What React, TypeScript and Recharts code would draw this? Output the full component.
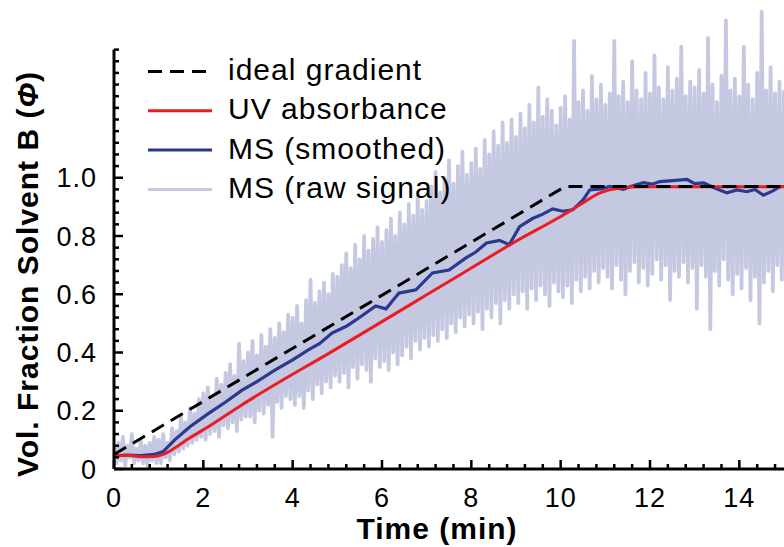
import React from "react";
import { LineChart, Line, XAxis, YAxis, Legend, ReferenceLine } from "recharts";

// ideal gradient program
const idealTime = [0, 10.1, 15];
const idealValue = [0.05, 0.97, 0.97];

// UV absorbance trace
const uvTime = [0, 0.3, 0.6, 0.9, 1.1, 1.36, 1.7, 2.11, 2.86, 3.61, 4.81, 6, 7, 8, 9, 9.98, 10.43, 10.88, 11.33, 11.8, 15];
const uvValue = [0.045, 0.047, 0.042, 0.043, 0.05, 0.072, 0.107, 0.145, 0.22, 0.29, 0.397, 0.506, 0.598, 0.69, 0.782, 0.865, 0.907, 0.948, 0.965, 0.969, 0.969];

// MS smoothed trace
const msTime = [
  0, 0.3, 0.6, 0.9, 1.1, 1.36, 1.7, 2.11, 2.5, 2.86, 3.2, 3.61, 4.0, 4.36, 4.6, 4.88, 5.2, 5.4, 5.63, 5.86,
  6.09, 6.38, 6.76, 7.13, 7.5, 7.88, 8.1, 8.34, 8.63, 8.85, 9.08, 9.37, 9.6, 9.82, 10.05, 10.27, 10.5, 10.65,
  10.9, 11.1, 11.4, 11.6, 11.85, 12.05, 12.22, 12.5, 12.83, 13.0, 13.2, 13.45, 13.72, 13.95, 14.17, 14.35,
  14.54, 14.75, 14.92, 15,
];
const msValue = [
  0.045, 0.048, 0.046, 0.05, 0.06, 0.1, 0.145, 0.19, 0.23, 0.27, 0.3, 0.34, 0.375, 0.41, 0.43, 0.467, 0.49, 0.51, 0.535, 0.56,
  0.55, 0.604, 0.615, 0.673, 0.683, 0.725, 0.745, 0.776, 0.785, 0.77, 0.832, 0.86, 0.875, 0.893, 0.885, 0.89, 0.924, 0.958,
  0.962, 0.97, 0.96, 0.972, 0.983, 0.978, 0.987, 0.99, 0.994, 0.98, 0.982, 0.965, 0.948, 0.958, 0.952, 0.96,
  0.94, 0.955, 0.97, 0.97,
];

// MS raw signal, sampled every 0.05 min (one row per minute)
const rawStep = 0.05;
const rawValue = [
  0.05, 0.02, 0.09, 0.03, 0.11, 0.01, 0.08, 0.04, 0.12, 0.02, 0.07, 0.03, 0.10, 0.02, 0.08, 0.01, 0.09, 0.03, 0.11, 0.02,
  0.10, 0.02, 0.12, 0.04, 0.09, 0.03, 0.14, 0.05, 0.13, 0.06, 0.18, 0.07, 0.16, 0.08, 0.21, 0.09, 0.19, 0.10, 0.24, 0.11,
  0.26, 0.10, 0.28, 0.12, 0.25, 0.13, 0.31, 0.11, 0.29, 0.15, 0.33, 0.14, 0.36, 0.16, 0.32, 0.13, 0.43, 0.17, 0.37, 0.18,
  0.40, 0.18, 0.44, 0.16, 0.39, 0.20, 0.46, 0.19, 0.42, 0.22, 0.48, 0.11, 0.45, 0.23, 0.50, 0.21, 0.47, 0.25, 0.53, 0.24,
  0.52, 0.22, 0.56, 0.25, 0.50, 0.21, 0.58, 0.27, 0.65, 0.24, 0.57, 0.29, 0.61, 0.26, 0.64, 0.30, 0.60, 0.28, 0.67, 0.32,
  0.66, 0.30, 0.70, 0.33, 0.74, 0.28, 0.69, 0.35, 0.77, 0.31, 0.72, 0.36, 0.80, 0.34, 0.75, 0.30, 0.79, 0.38, 0.83, 0.35,
  0.78, 0.37, 0.82, 0.34, 0.86, 0.40, 0.80, 0.36, 0.88, 0.39, 0.84, 0.42, 0.91, 0.38, 0.87, 0.44, 0.94, 0.41, 0.89, 0.45,
  0.92, 0.42, 0.97, 0.46, 1.02, 0.44, 0.95, 0.48, 1.00, 0.45, 1.06, 0.50, 0.98, 0.47, 1.04, 0.52, 1.09, 0.49, 1.01, 0.53,
  1.05, 0.50, 1.10, 0.54, 1.03, 0.48, 1.13, 0.55, 1.08, 0.52, 1.16, 0.57, 1.11, 0.50, 1.19, 0.58, 1.12, 0.55, 1.20, 0.60,
  1.14, 0.57, 1.22, 0.61, 1.17, 0.55, 1.25, 0.62, 1.19, 0.58, 1.31, 0.63, 1.21, 0.60, 1.27, 0.56, 1.23, 0.64, 1.18, 0.61,
  1.24, 0.59, 1.28, 0.63, 1.20, 0.57, 1.47, 0.65, 1.26, 0.61, 1.30, 0.66, 1.23, 0.62, 1.35, 0.68, 1.27, 0.64, 1.32, 0.69,
  1.25, 0.66, 1.29, 0.62, 1.47, 0.70, 1.28, 0.65, 1.33, 0.60, 1.26, 0.68, 1.40, 0.71, 1.30, 0.64, 1.27, 0.69, 1.36, 0.63,
  1.29, 0.67, 1.42, 0.72, 1.31, 0.65, 1.27, 0.70, 1.38, 0.58, 1.30, 0.68, 1.34, 0.66, 1.45, 0.71, 1.28, 0.64, 1.33, 0.69,
  1.31, 0.55, 1.37, 0.70, 1.29, 0.66, 1.48, 0.48, 1.32, 0.68, 1.26, 0.63, 1.35, 0.72, 1.54, 0.65, 1.30, 0.60, 1.34, 0.67,
  1.28, 0.62, 1.45, 0.69, 1.32, 0.58, 1.27, 0.66, 1.36, 0.50, 1.57, 0.64, 1.30, 0.68, 1.38, 0.61, 1.29, 0.70, 1.33, 0.65,
  1.30,
];

const xTicks = Array.from({ length: 38 }, (_, i) => +(i * 0.4).toFixed(1));
const xLabels = [0, 2, 4, 6, 8, 10, 12, 14];
const yTicks = Array.from({ length: 37 }, (_, i) => +(i * 0.04).toFixed(2));
const yLabels = [0, 0.2, 0.4, 0.6, 0.8, 1.0];

const zip = (t: number[], v: number[]) => t.map((x, i) => ({ t: x, v: v[i] }));
const idealData = zip(idealTime, idealValue);
const uvData = zip(uvTime, uvValue);
const msData = zip(msTime, msValue);
const rawData = rawValue.map((v, i) => ({ t: +(i * rawStep).toFixed(2), v }));

const FONT = "'Liberation Sans', Arial, Helvetica, sans-serif";

const legendItems = [
  { name: "ideal gradient", color: "#000000", dash: "14 8" },
  { name: "UV absorbance", color: "#ec1c24" },
  { name: "MS (smoothed)", color: "#2b3990" },
  { name: "MS (raw signal)", color: "#c5c8e1" },
];

const near = (arr: number[], v: number) => arr.some((a) => Math.abs(a - v) < 1e-6);

const XTick = ({ x, y, payload }: any) => {
  const major = near(xLabels, payload.value);
  return (
    <g>
      <line x1={x} x2={x} y1={y} y2={y - (major ? 9 : 5)} stroke="#000" strokeWidth={2.5} />
      {major && (
        <text x={x} y={y + 38} textAnchor="middle" fontSize={27} letterSpacing={1} fill="#000" fontFamily={FONT}>
          {payload.value}
        </text>
      )}
    </g>
  );
};

const YTick = ({ x, y, payload }: any) => {
  const major = near(yLabels, payload.value);
  return (
    <g>
      <line x1={x} x2={x + (major ? 9 : 5)} y1={y} y2={y} stroke="#000" strokeWidth={2.5} />
      {major && (
        <text x={x - 17} y={y} dy="0.36em" textAnchor="end" fontSize={27} letterSpacing={1} fill="#000" fontFamily={FONT}>
          {payload.value === 0 ? "0" : payload.value.toFixed(1)}
        </text>
      )}
    </g>
  );
};

const XTitle = () => (
  <text x={437} y={539} textAnchor="middle" fontSize={30} fontWeight="bold" letterSpacing={1} fill="#000" fontFamily={FONT}>
    Time (min)
  </text>
);

const YTitle = () => (
  <text
    x={38}
    y={274}
    transform="rotate(-90 38 274)"
    textAnchor="middle"
    fontSize={30}
    fontWeight="bold"
    letterSpacing={1}
    fill="#000"
    fontFamily={FONT}
  >
    Vol. Fraction Solvent B (<tspan fontStyle="italic">Φ</tspan>)
  </text>
);

const LegendBox = () => (
  <svg width={340} height={165}>
    {legendItems.map((it, i) => {
      const base = 35 + i * 39.3;
      return (
        <g key={it.name}>
          <line
            x1={8}
            x2={72}
            y1={base - 8.5}
            y2={base - 8.5}
            stroke={it.color}
            strokeWidth={3}
            strokeDasharray={it.dash}
          />
          <text x={88} y={base} fontSize={30} letterSpacing={1} fill="#000" fontFamily={FONT}>
            {it.name}
          </text>
        </g>
      );
    })}
  </svg>
);

export default function App() {
  return (
    <div style={{ position: "absolute", left: 0, top: 0, width: 784, height: 547, background: "#fff" }}>
      <LineChart width={784} height={547} margin={{ top: 3, right: 0, left: 0, bottom: 0 }} style={{ fontFamily: FONT }}>
        <XAxis
          type="number"
          dataKey="t"
          domain={[0, 15]}
          ticks={xTicks}
          interval={0}
          tick={<XTick />}
          tickSize={0}
          tickMargin={0}
          tickLine={false}
          axisLine={{ stroke: "#000", strokeWidth: 3 }}
          height={78}
          label={<XTitle />}
        />
        <YAxis
          type="number"
          dataKey="v"
          domain={[0, 1.6]}
          ticks={yTicks}
          interval={0}
          tick={<YTick />}
          tickSize={0}
          tickMargin={0}
          tickLine={false}
          axisLine={false}
          width={114}
          label={<YTitle />}
        />
        <Legend
          layout="vertical"
          align="center"
          verticalAlign="middle"
          content={<LegendBox />}
          wrapperStyle={{ left: 140, top: 45, width: 340, height: 165 }}
        />
        <Line data={rawData} dataKey="v" type="linear" stroke="#c5c8e1" strokeWidth={3.8} strokeLinejoin="round" dot={false} activeDot={false} isAnimationActive={false} legendType="none" />
        <Line data={msData} dataKey="v" type="linear" stroke="#2b3990" strokeWidth={3.2} dot={false} activeDot={false} isAnimationActive={false} legendType="none" />
        <Line data={uvData} dataKey="v" type="monotone" stroke="#ec1c24" strokeWidth={3} dot={false} activeDot={false} isAnimationActive={false} legendType="none" />
        <Line data={idealData} dataKey="v" type="linear" stroke="#000" strokeWidth={3} strokeDasharray="14 8" dot={false} activeDot={false} isAnimationActive={false} legendType="none" />
        <ReferenceLine segment={[{ x: 0, y: 0 }, { x: 0, y: 1.44 }]} stroke="#000" strokeWidth={3} ifOverflow="visible" />
      </LineChart>
    </div>
  );
}
